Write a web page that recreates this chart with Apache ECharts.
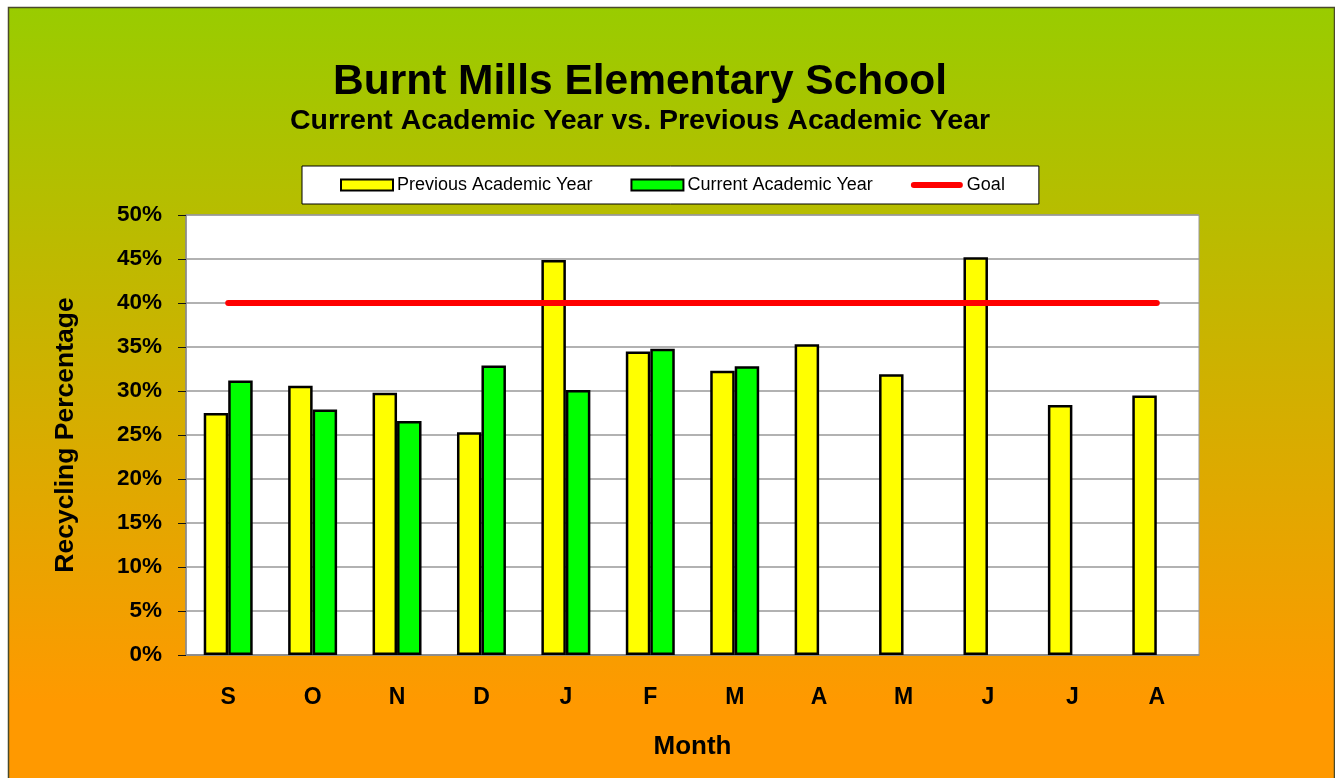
<!DOCTYPE html>
<html>
<head>
<meta charset="utf-8">
<title>Burnt Mills Elementary School</title>
<script src="https://cdn.jsdelivr.net/npm/echarts@6/dist/echarts.min.js"></script>
<style>
  html, body { margin: 0; padding: 0; background: #fff; }
  #main { width: 1335px; height: 778px; }
</style>
</head>
<body>
<div id="main"></div>
<script>
var months = ['S', 'O', 'N', 'D', 'J', 'F', 'M', 'A', 'M', 'J', 'J', 'A'];
var previousYear = [27.5, 30.6, 29.8, 25.3, 44.9, 34.5, 32.3, 35.3, 31.9, 45.2, 28.4, 29.5];
var currentYear = [31.2, 27.9, 26.6, 32.9, 30.1, 34.8, 32.8, null, null, null, null, null];
var goal = [40, 40, 40, 40, 40, 40, 40, 40, 40, 40, 40, 40];

var font = '"Liberation Sans", Arial, sans-serif';
// rounded bar used as the legend mark of the goal line
var goalIcon = 'path://M3,0 L49,0 A3,3 0 0 1 49,6 L3,6 A3,3 0 0 1 3,0 Z';

var myChart = echarts.init(document.getElementById('main'));
var option = {
  backgroundColor: '#fff',
  animation: false,
  graphic: [{
    type: 'rect',
    z: -10,
    silent: true,
    shape: { x: 8.5, y: 7.5, width: 1326, height: 790 },
    style: {
      stroke: '#4a4a2a',
      lineWidth: 1.5,
      fill: new echarts.graphic.LinearGradient(0, 0, 0, 1, [
        { offset: 0, color: '#99cc00' },
        { offset: 0.88, color: '#ff9900' },
        { offset: 1, color: '#ff9900' }
      ])
    }
  }],
  title: [{
    text: 'Burnt Mills Elementary School',
    left: 635,
    top: 56,
    textAlign: 'center',
    textStyle: { fontFamily: font, fontSize: 42.5, fontWeight: 'bold', color: '#000' }
  }, {
    text: 'Current Academic Year vs. Previous Academic Year',
    left: 635,
    top: 102,
    textAlign: 'center',
    textStyle: { fontFamily: font, fontSize: 28.5, fontWeight: 'bold', color: '#000' }
  }],
  legend: {
    left: 302,
    top: 166,
    padding: [10, 34, 10, 38],
    itemGap: 38,
    itemWidth: 52,
    itemHeight: 11,
    backgroundColor: '#fff',
    borderColor: '#000',
    borderWidth: 1,
    borderRadius: 0,
    textStyle: { fontFamily: font, fontSize: 18, color: '#000', padding: [2, 0, 0, -1] },
    data: [
      { name: 'Previous Academic Year', icon: 'rect' },
      { name: 'Current Academic Year', icon: 'rect' },
      { name: 'Goal', icon: goalIcon, itemStyle: { color: '#ff0000', borderWidth: 0 } }
    ]
  },
  grid: {
    left: 186,
    right: 136,
    top: 215,
    bottom: 123,
    show: true,
    backgroundColor: '#fff',
    borderColor: '#999',
    borderWidth: 1
  },
  xAxis: {
    type: 'category',
    data: months,
    name: 'Month',
    nameLocation: 'middle',
    nameGap: 79,
    nameTextStyle: { fontFamily: font, fontSize: 26, fontWeight: 'bold', color: '#000' },
    axisLine: { lineStyle: { color: '#888', width: 1.5 } },
    axisTick: { show: false },
    axisLabel: { fontFamily: font, fontSize: 23, fontWeight: 'bold', color: '#000', margin: 31 },
    splitLine: { show: false }
  },
  yAxis: {
    type: 'value',
    min: 0,
    max: 50,
    interval: 5,
    name: 'Recycling Percentage',
    nameLocation: 'middle',
    nameGap: 107,
    nameRotate: 90,
    nameTextStyle: { fontFamily: font, fontSize: 26.5, fontWeight: 'bold', color: '#000' },
    axisLine: { show: true, lineStyle: { color: '#888', width: 1.5 } },
    axisTick: { show: true, length: 8, lineStyle: { color: '#111', width: 1 } },
    axisLabel: { fontFamily: font, fontSize: 22.5, fontWeight: 'bold', color: '#000', margin: 24, formatter: '{value}%' },
    splitLine: { lineStyle: { color: '#999', width: 1.5 } }
  },
  series: [{
    name: 'Previous Academic Year',
    type: 'bar',
    data: previousYear,
    barGap: '0%',
    barCategoryGap: '42%',
    itemStyle: { color: '#ffff00', borderColor: '#000', borderWidth: 2.5 }
  }, {
    name: 'Current Academic Year',
    type: 'bar',
    data: currentYear,
    itemStyle: { color: '#00ff00', borderColor: '#000', borderWidth: 2.5 }
  }, {
    name: 'Goal',
    type: 'line',
    data: goal,
    symbol: 'none',
    itemStyle: { color: '#ff0000' },
    lineStyle: { color: '#ff0000', width: 6, cap: 'round' },
    z: 5
  }]
};
myChart.setOption(option);
</script>
</body>
</html>
